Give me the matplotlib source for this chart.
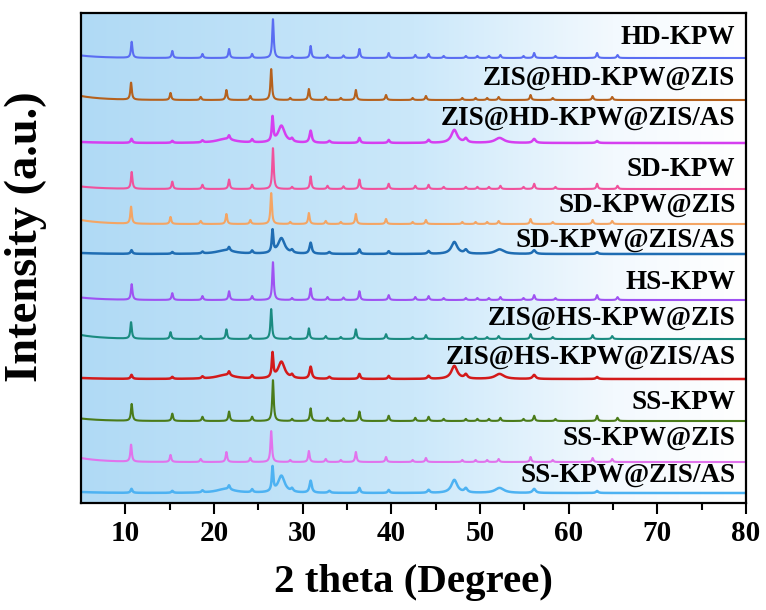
import numpy as np
import matplotlib
matplotlib.use("Agg")
import matplotlib.pyplot as plt

plt.rcParams['font.family'] = ['Liberation Serif', 'DejaVu Serif']
plt.rcParams['font.weight'] = 'bold'

# =========================
# DATA
# =========================
names = ["HD-KPW", "ZIS@HD-KPW@ZIS", "ZIS@HD-KPW@ZIS/AS",
         "SD-KPW", "SD-KPW@ZIS", "SD-KPW@ZIS/AS",
         "HS-KPW", "ZIS@HS-KPW@ZIS", "ZIS@HS-KPW@ZIS/AS",
         "SS-KPW", "SS-KPW@ZIS", "SS-KPW@ZIS/AS"]
kinds = ["kpw", "zis", "as"] * 4
colors = ["#5a6df2", "#b5611d", "#d53ff0",
          "#f0529c", "#f4a564", "#1f6db3",
          "#9f52f2", "#1a8b80", "#d31a1a",
          "#4a7b19", "#e173ec", "#4db2f2"]
offsets = [445, 403, 360, 314, 279, 249, 203, 164, 124, 82, 41, 10]
main_peak = [39, 31, 24, 41, 31, 22, 38, 30, 24, 41, 31, 24]
label_y = [465, 425, 385, 333, 298, 263, 221, 185, 146, 101, 65, 28]

# pristine KPW pattern: position (deg), height (for main peak = 39)
kpw_pos = [10.72, 15.3, 18.7, 21.7, 24.3, 26.65, 28.8, 30.9, 32.8, 34.6, 36.4,
           39.7, 42.7, 44.2, 45.9, 48.4, 49.7, 51.0, 52.3, 54.9, 56.1, 58.5,
           63.2, 65.5]
kpw_h = [16, 7, 4, 9, 4, 39, 2, 12, 3, 2.5, 9,
         5, 3, 4, 2, 2, 2, 2, 3, 2, 5, 2,
         5, 3]
kpw_bg = 2.5

# ZIS coated KPW pattern (main peak = 31)
zis_pos = [10.65, 15.1, 18.5, 21.4, 24.1, 26.45, 28.6, 30.7, 32.6, 34.3, 36.0,
           39.4, 42.4, 43.9, 48.0, 49.5, 50.8, 52.1, 55.7, 58.2, 62.7, 64.9]
zis_h = [17, 7, 3, 10, 4, 31, 2, 11, 3, 2, 10,
         5, 2, 4, 2, 2, 2, 3, 5, 2, 4, 3]
zis_bg = 4

# ZIS/AS composite pattern (main peak = 24), incl. broad ZIS humps
as_pos = [10.7, 15.3, 18.7, 21.7, 21.3, 24.3, 26.6, 27.6, 28.8, 30.9, 33.0,
          36.4, 39.7, 44.2, 47.1, 48.4, 52.2, 56.1, 63.2]
as_h = [4, 2, 2, 4, 4, 3, 24, 17, 3, 12, 2,
        5, 3, 3, 13, 4, 5, 4, 2]
as_w = [0.12, 0.12, 0.12, 0.12, 1.2, 0.12, 0.1, 0.45, 0.15, 0.15, 0.15,
        0.12, 0.12, 0.15, 0.4, 0.2, 0.6, 0.2, 0.15]
as_bg = 1

patterns = {
    "kpw": (kpw_pos, kpw_h, [0.1] * len(kpw_pos), 39, kpw_bg),
    "zis": (zis_pos, zis_h, [0.1] * len(zis_pos), 31, zis_bg),
    "as": (as_pos, as_h, as_w, 24, as_bg),
}

x = np.linspace(5, 80, 4000)


def pattern(kind, amp):
    pos, h, w, ref, bg = patterns[kind]
    y = bg * np.exp(-(x - 5) / 2.5)
    for p, hh, ww in zip(pos, h, w):
        y += hh * amp / ref / (1 + ((x - p) / ww) ** 2)
    return y


# =========================
# PLOT
# =========================
fig = plt.figure(figsize=(7.66, 6.10), dpi=100)
ax = fig.add_axes([0.1057, 0.1754, 0.8683, 0.8033])

# background gradient
stops_t = [0.0, 0.5, 0.8, 1.0]
stops_c = np.array([[176, 218, 245], [203, 232, 250], [243, 249, 254], [255, 255, 255]]) / 255
t = np.linspace(0, 1, 256)
grad = np.stack([np.interp(t, stops_t, stops_c[:, k]) for k in range(3)], axis=-1)
ax.imshow(grad[np.newaxis, :, :], extent=[5, 80, 0, 490], aspect='auto', zorder=0)

for name, kind, col, off, amp, ly in zip(names, kinds, colors, offsets, main_peak, label_y):
    lw = 1.8 if kind == "as" else 1.5
    ax.plot(x, off + pattern(kind, amp), color=col, lw=lw, zorder=2)
    ax.text(78.8, ly, name, ha='right', va='center', fontsize=19.5,
            fontweight='bold', zorder=3)

ax.set_xlim(5, 80)
ax.set_ylim(0, 490)
ax.set_yticks([])
ax.set_xticks(range(10, 81, 10))
ax.set_xticks(range(15, 80, 10), minor=True)
ax.tick_params(axis='x', which='major', direction='out', length=8, width=1.5,
               labelsize=21, pad=4)
ax.tick_params(axis='x', which='minor', direction='out', length=5, width=1.5)
for s in ax.spines.values():
    s.set_linewidth(1.6)

ax.set_xlabel("2 theta (Degree)", fontsize=29.5, fontweight='bold', va='center')
ax.xaxis.set_label_coords(0.50, -0.163)
ax.set_ylabel("Intensity (a.u.)", fontsize=33.5, fontweight='bold', va='center')
ax.yaxis.set_label_coords(-0.083, 0.543)

fig.savefig("out.png", dpi=100)
